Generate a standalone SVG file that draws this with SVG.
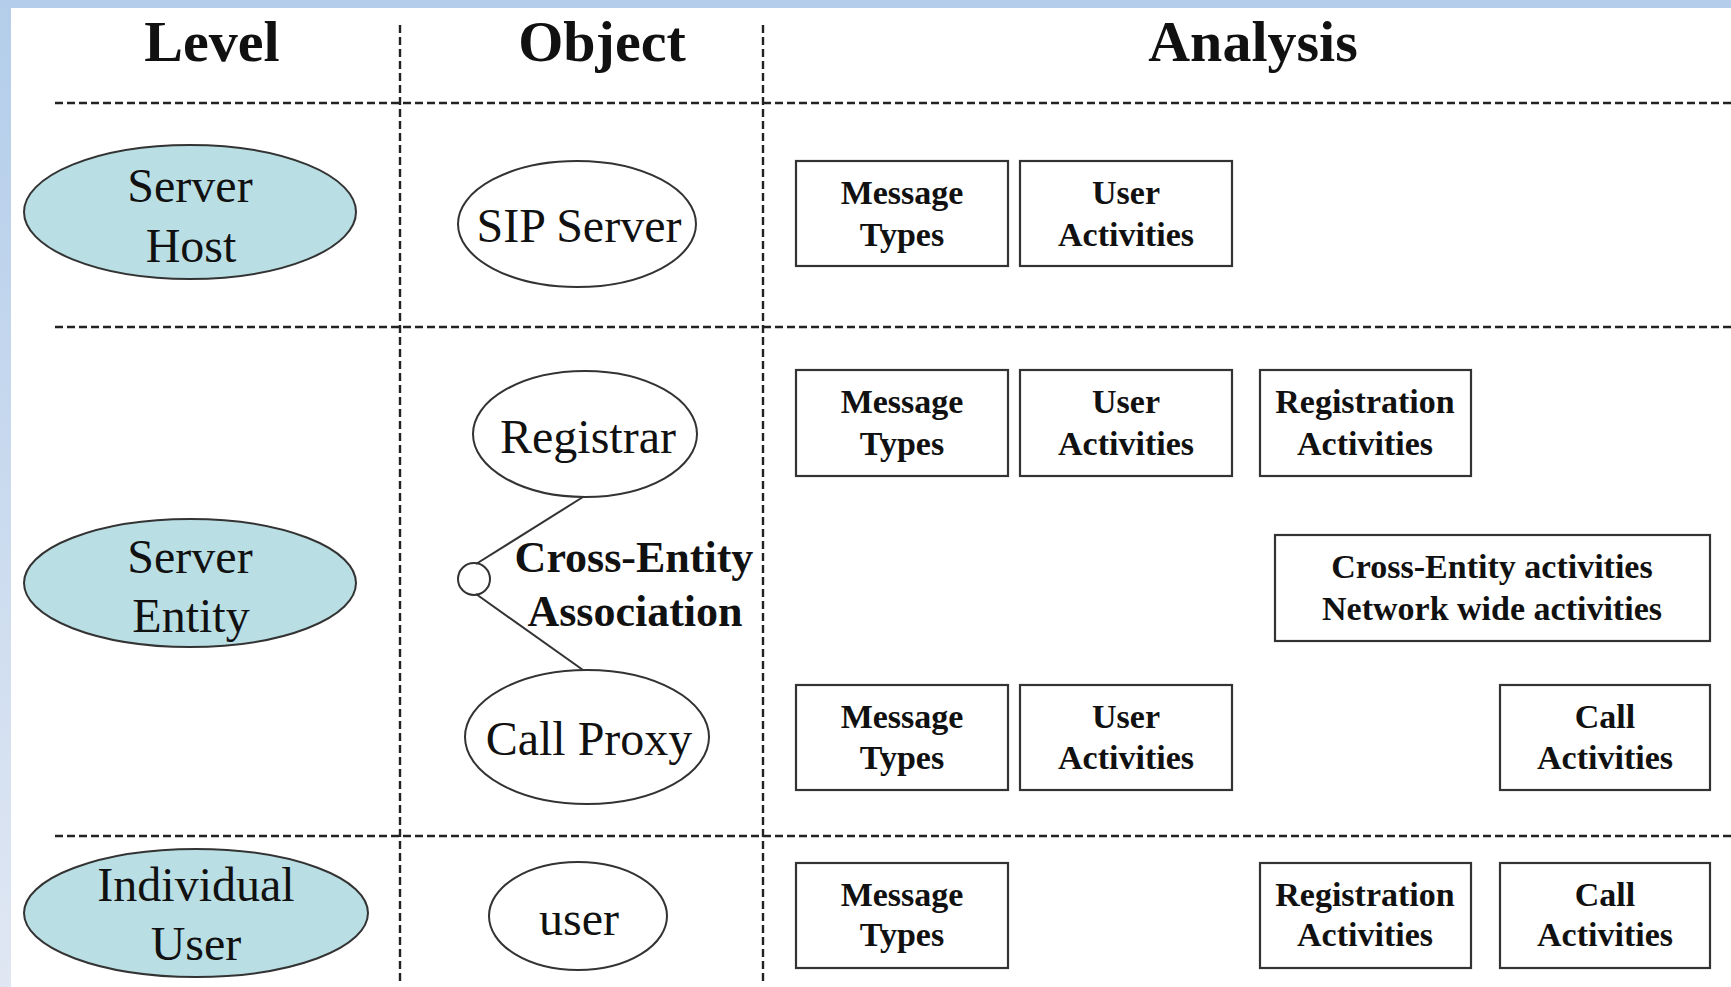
<svg xmlns="http://www.w3.org/2000/svg" width="1731" height="987" viewBox="0 0 1731 987">
<defs>
<linearGradient id="lb" x1="0" y1="0" x2="0" y2="1">
<stop offset="0" stop-color="#b3cdea"/>
<stop offset="1" stop-color="#e0e7f3"/>
</linearGradient>
</defs>
<style>
.grid{stroke:#222;stroke-width:2.4;stroke-dasharray:8 4;fill:none}
.lvl{fill:#b9dee3;stroke:#333;stroke-width:2}
.obj{fill:#fff;stroke:#333;stroke-width:2}
.box{fill:#fff;stroke:#333;stroke-width:2.2}
.hd{font-family:"Liberation Serif",serif;font-weight:bold;font-size:58px;text-anchor:middle;fill:#111}
.t{font-family:"Liberation Serif",serif;font-size:48px;text-anchor:middle;fill:#111}
.b{font-family:"Liberation Serif",serif;font-weight:bold;font-size:34px;text-anchor:middle;fill:#111}
.ce{font-family:"Liberation Serif",serif;font-weight:bold;font-size:44px;text-anchor:middle;fill:#111}
.ln{stroke:#333;stroke-width:2;fill:none}
</style>
<rect x="0" y="0" width="1731" height="987" fill="#fff"/>
<rect x="0" y="0" width="11" height="987" fill="url(#lb)"/>
<rect x="0" y="0" width="1731" height="8" fill="#b3cdea"/>

<g id="grid">
<line class="grid" x1="55" y1="103" x2="1731" y2="103"/>
<line class="grid" x1="55" y1="327" x2="1731" y2="327"/>
<line class="grid" x1="55" y1="836" x2="1731" y2="836"/>
<line class="grid" x1="400" y1="25" x2="400" y2="985"/>
<line class="grid" x1="763" y1="25" x2="763" y2="985"/>
</g>

<g id="headers">
<text class="hd" x="212" y="61">Level</text>
<text class="hd" x="602" y="61">Object</text>
<text class="hd" x="1253" y="61">Analysis</text>
</g>

<g id="level-server-host">
<ellipse class="lvl" cx="190" cy="212" rx="166" ry="67"/>
<text class="t" x="190" y="202">Server</text>
<text class="t" x="191" y="262">Host</text>
</g>
<g id="level-server-entity">
<ellipse class="lvl" cx="190" cy="583" rx="166" ry="64"/>
<text class="t" x="190" y="573">Server</text>
<text class="t" x="191" y="632">Entity</text>
</g>
<g id="level-individual-user">
<ellipse class="lvl" cx="196" cy="913" rx="172" ry="64"/>
<text class="t" x="196" y="901">Individual</text>
<text class="t" x="196" y="960">User</text>
</g>

<g id="obj-sip-server">
<ellipse class="obj" cx="577" cy="224" rx="119" ry="63"/>
<text class="t" x="579" y="242">SIP Server</text>
</g>
<g id="obj-registrar">
<ellipse class="obj" cx="585" cy="434" rx="112" ry="63"/>
<text class="t" x="588" y="453">Registrar</text>
</g>
<g id="obj-call-proxy">
<ellipse class="obj" cx="587" cy="737" rx="122" ry="67"/>
<text class="t" x="589" y="755">Call Proxy</text>
</g>
<g id="obj-user">
<ellipse class="obj" cx="578" cy="916" rx="89" ry="54"/>
<text class="t" x="579" y="935">user</text>
</g>
<g id="cross-entity-association">
<circle class="obj" cx="474" cy="579" r="16"/>
<text class="ce" x="634" y="572">Cross-Entity</text>
<text class="ce" x="635" y="626">Association</text>
</g>

<g id="connectors">
<line class="ln" x1="476" y1="564" x2="583" y2="497"/>
<line class="ln" x1="476" y1="594" x2="583" y2="670"/>
</g>

<g id="row1-message-types"><rect class="box" x="796" y="161" width="212" height="105"/><text class="b" x="902" y="204">Message</text><text class="b" x="902" y="246">Types</text></g>
<g id="row1-user-activities"><rect class="box" x="1020" y="161" width="212" height="105"/><text class="b" x="1126" y="204">User</text><text class="b" x="1126" y="246">Activities</text></g>

<g id="row2-message-types"><rect class="box" x="796" y="370" width="212" height="106"/><text class="b" x="902" y="413">Message</text><text class="b" x="902" y="455">Types</text></g>
<g id="row2-user-activities"><rect class="box" x="1020" y="370" width="212" height="106"/><text class="b" x="1126" y="413">User</text><text class="b" x="1126" y="455">Activities</text></g>
<g id="row2-registration-activities"><rect class="box" x="1260" y="370" width="211" height="106"/><text class="b" x="1365" y="413">Registration</text><text class="b" x="1365" y="455">Activities</text></g>

<g id="cross-entity-activities"><rect class="box" x="1275" y="535" width="435" height="106"/><text class="b" x="1492" y="578">Cross-Entity activities</text><text class="b" x="1492" y="620">Network wide activities</text></g>

<g id="row3-message-types"><rect class="box" x="796" y="685" width="212" height="105"/><text class="b" x="902" y="728">Message</text><text class="b" x="902" y="769">Types</text></g>
<g id="row3-user-activities"><rect class="box" x="1020" y="685" width="212" height="105"/><text class="b" x="1126" y="728">User</text><text class="b" x="1126" y="769">Activities</text></g>
<g id="row3-call-activities"><rect class="box" x="1500" y="685" width="210" height="105"/><text class="b" x="1605" y="728">Call</text><text class="b" x="1605" y="769">Activities</text></g>

<g id="row4-message-types"><rect class="box" x="796" y="863" width="212" height="105"/><text class="b" x="902" y="906">Message</text><text class="b" x="902" y="946">Types</text></g>
<g id="row4-registration-activities"><rect class="box" x="1260" y="863" width="211" height="105"/><text class="b" x="1365" y="906">Registration</text><text class="b" x="1365" y="946">Activities</text></g>
<g id="row4-call-activities"><rect class="box" x="1500" y="863" width="210" height="105"/><text class="b" x="1605" y="906">Call</text><text class="b" x="1605" y="946">Activities</text></g>
</svg>
